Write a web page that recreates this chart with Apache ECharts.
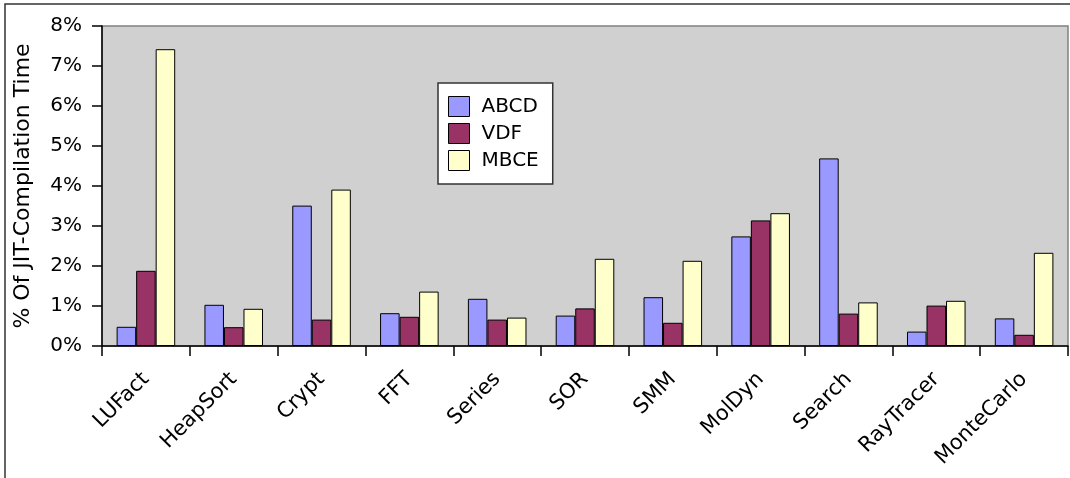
<!DOCTYPE html>
<html>
<head>
<meta charset="utf-8">
<script src="https://cdn.jsdelivr.net/npm/echarts@6/dist/echarts.min.js"></script>
<style>
  html, body { margin: 0; padding: 0; background: #fff; }
  #chart { width: 1070px; height: 478px; }
</style>
</head>
<body>
<div id="chart"></div>
<script>
// Benchmarks of the suite
const categories = ['LUFact', 'HeapSort', 'Crypt', 'FFT', 'Series', 'SOR', 'SMM', 'MolDyn', 'Search', 'RayTracer', 'MonteCarlo'];

// Share of JIT-compilation time (%) per analysis
const abcd = [0.48, 1.03, 3.51, 0.82, 1.18, 0.76, 1.22, 2.74, 4.69, 0.36, 0.69];
const vdf  = [1.88, 0.47, 0.66, 0.73, 0.66, 0.94, 0.58, 3.14, 0.81, 1.01, 0.28];
const mbce = [7.42, 0.93, 3.91, 1.36, 0.71, 2.18, 2.13, 3.32, 1.09, 1.13, 2.33];

const seriesNames = ['ABCD', 'VDF', 'MBCE'];
const seriesColors = ['#9999ff', '#993366', '#ffffcc'];

const font = 'DejaVu Sans';
const chart = echarts.init(document.getElementById('chart'), null, { renderer: 'canvas' });

const makeSeries = (name, data, color) => ({
  name,
  type: 'bar',
  data,
  barGap: '0%',
  barCategoryGap: '33.3%',
  itemStyle: { color, borderColor: '#000', borderWidth: 1 },
  emphasis: { disabled: true }
});

chart.setOption({
  animation: false,
  textStyle: { fontFamily: font },
  graphic: [{
    type: 'rect',
    shape: { x: 5, y: 4, width: 1200, height: 600 },
    style: { fill: 'none', stroke: '#333', lineWidth: 1.5 },
    z: 100
  }],
  grid: {
    left: 102, right: 2, top: 26, bottom: 132,
    show: true,
    backgroundColor: '#d0d0d0',
    borderColor: '#808080',
    borderWidth: 1.5
  },
  legend: {
    orient: 'vertical',
    left: 438,
    top: 83,
    padding: [13, 14, 13, 10],
    itemWidth: 21,
    itemHeight: 20,
    itemGap: 6,
    icon: 'rect',
    backgroundColor: '#fff',
    borderColor: '#333',
    borderWidth: 1.5,
    itemStyle: { borderColor: '#000', borderWidth: 1 },
    textStyle: { fontFamily: font, fontSize: 20, color: '#000', padding: [0, 0, 0, 7] },
    data: seriesNames
  },
  xAxis: {
    type: 'category',
    data: categories,
    axisLine: { lineStyle: { color: '#000', width: 1.5 } },
    axisTick: { show: true, length: 10, lineStyle: { color: '#000', width: 1.5 } },
    axisLabel: {
      interval: 0,
      rotate: 45,
      margin: 30,
      fontFamily: font,
      fontSize: 21,
      color: '#000'
    }
  },
  yAxis: {
    type: 'value',
    min: 0,
    max: 8,
    interval: 1,
    name: '% Of JIT-Compilation Time',
    nameLocation: 'middle',
    nameGap: 68,
    nameTextStyle: { fontFamily: font, fontSize: 22, color: '#000' },
    axisLine: { show: true, lineStyle: { color: '#000', width: 1.5 } },
    axisTick: { show: true, length: 10, lineStyle: { color: '#000', width: 1.5 } },
    splitLine: { show: false },
    axisLabel: {
      formatter: '{value}%',
      margin: 20,
      fontFamily: font,
      fontSize: 20,
      color: '#000'
    }
  },
  series: [
    makeSeries(seriesNames[0], abcd, seriesColors[0]),
    makeSeries(seriesNames[1], vdf, seriesColors[1]),
    makeSeries(seriesNames[2], mbce, seriesColors[2])
  ]
});
</script>
</body>
</html>
